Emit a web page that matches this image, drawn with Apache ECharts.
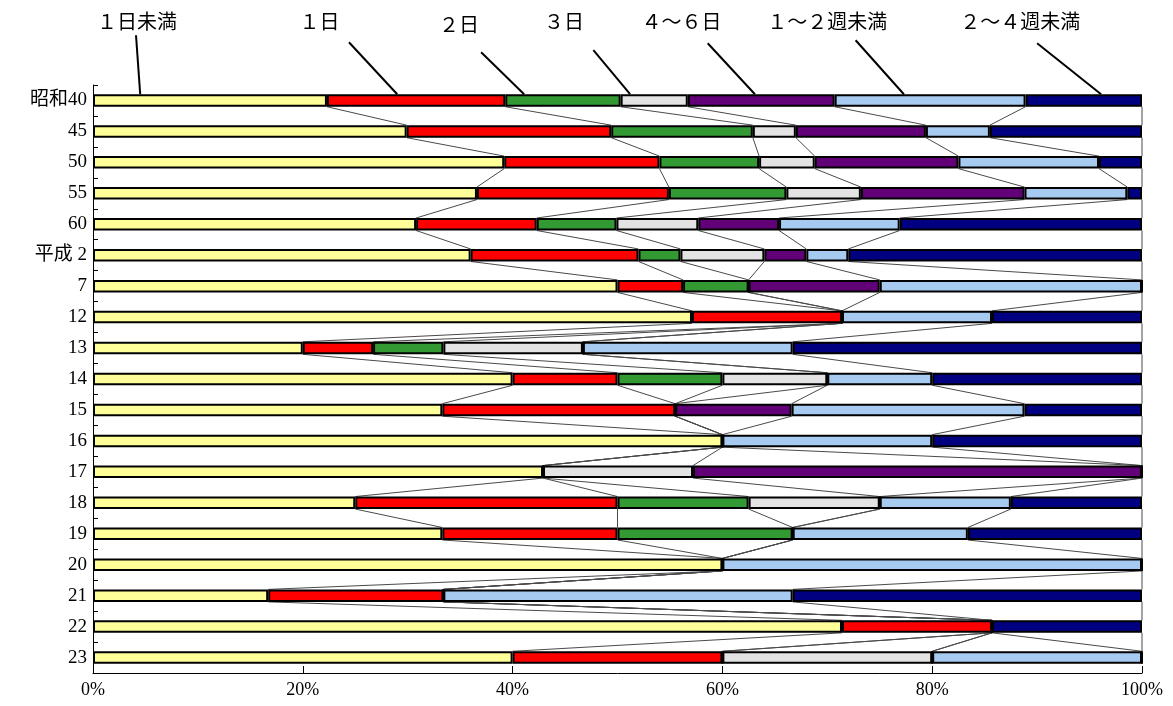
<!DOCTYPE html>
<html>
<head>
<meta charset="utf-8">
<script src="https://cdn.jsdelivr.net/npm/echarts@6/dist/echarts.min.js"></script>
<style>
  html, body { margin: 0; padding: 0; background: #fff; }
  #chart { width: 1173px; height: 706px; }
</style>
</head>
<body>
<div id="chart"></div>
<script>
// Survey years (category axis, top to bottom)
const years = ['昭和40', '45', '50', '55', '60', '平成 2', '7', '12', '13', '14', '15', '16', '17', '18', '19', '20', '21', '22', '23'];

// Duration classes (stack order, left to right)
const seriesNames = ['１日未満', '１日', '２日', '３日', '４～６日', '１～２週未満', '２～４週未満'];

// Share of each duration class per year (%)
const lessThanOneDay = [22.3, 29.9, 39.2, 36.6, 30.8, 36, 50, 57.1, 20, 40, 33.3, 60, 42.9, 25, 33.3, 60, 16.7, 71.4, 40];
const oneDay         = [17.0, 19.5, 14.8, 18.3, 11.5, 16, 6.25, 14.3, 6.7, 10, 22.2, 0, 0, 25, 16.7, 0, 16.7, 14.3, 20];
const twoDays        = [11.0, 13.5, 9.5, 11.2, 7.6, 4, 6.25, 0, 6.7, 10, 0, 0, 0, 12.5, 16.7, 0, 0, 0, 0];
const threeDays      = [6.4, 4.1, 5.3, 7.1, 7.8, 8, 0, 0, 13.3, 10, 0, 0, 14.3, 12.5, 0, 0, 0, 0, 20];
const fourToSixDays  = [14.0, 12.4, 13.7, 15.6, 7.7, 4, 12.5, 0, 0, 0, 11.1, 0, 42.8, 0, 0, 0, 0, 0, 0];
const oneToTwoWeeks  = [18.2, 6.1, 13.4, 9.8, 11.5, 4, 25, 14.3, 20, 10, 22.2, 20, 0, 12.5, 16.7, 40, 33.3, 0, 20];
const twoToFourWeeks = [11.1, 14.5, 4.1, 1.4, 23.1, 28, 0, 14.3, 33.3, 20, 11.2, 20, 0, 12.5, 16.6, 0, 33.3, 14.3, 0];

// Percent tick labels
const xTicks = [0, 20, 40, 60, 80, 100];

const seriesValues = [lessThanOneDay, oneDay, twoDays, threeDays, fourToSixDays, oneToTwoWeeks, twoToFourWeeks];
const colors = ['#FFFF99', '#FF0000', '#339933', '#E3E3E3', '#620077', '#A6CAF0', '#000080'];

// Drawing layout for the callout labels above the first bar (percent along the axis, pixel rises above the bar top)
const calloutLayout = {
  textX:     [4.2, 21.6, 34.9, 44.9, 56.1, 70.0, 88.4],
  textRise:  [73, 73, 70, 73, 73, 73, 73],
  startX:    [4.1, 24.4, 37.0, 47.7, 58.6, 72.7, 90.0],
  startRise: [59, 52, 42, 44, 51, 54, 51],
  endX:      [4.5, 29.0, 41.1, 51.2, 63.1, 77.3, 96.1]
};

const BAR_W = 12.5;
const LABEL_FONT = "'Liberation Serif', 'Noto Sans CJK JP', serif";

// Cumulative right edge of each class per year
const cumulative = seriesValues.map((_, s) =>
  years.map((_, i) => {
    let t = 0;
    for (let k = 0; k <= s; k++) t += seriesValues[k][i];
    return t;
  })
);

// Connector lines between consecutive bars at each class boundary
const connectorData = [];
for (let s = 0; s < seriesValues.length; s++) {
  for (let i = 0; i < years.length - 1; i++) {
    connectorData.push([cumulative[s][i], i, cumulative[s][i + 1]]);
  }
}

const chart = echarts.init(document.getElementById('chart'), null, { renderer: 'canvas' });

const barSeries = seriesNames.map((name, s) => ({
  name: name,
  type: 'bar',
  stack: 'total',
  barWidth: BAR_W,
  data: seriesValues[s],
  itemStyle: { color: colors[s], borderColor: '#000', borderWidth: 2 },
  emphasis: { disabled: true },
  z: 3
}));

const connectorSeries = {
  type: 'custom',
  coordinateSystem: 'cartesian2d',
  clip: false,
  silent: true,
  z: 2,
  encode: { x: [0, 2], y: 1 },
  data: connectorData,
  renderItem: function (params, api) {
    const i = api.value(1);
    const p1 = api.coord([api.value(0), i]);
    const p2 = api.coord([api.value(2), i + 1]);
    const half = BAR_W / 2;
    return {
      type: 'line',
      shape: { x1: p1[0], y1: p1[1] + half, x2: p2[0], y2: p2[1] - half },
      style: { stroke: '#4a4a4a', lineWidth: 1 }
    };
  }
};

const calloutSeries = {
  type: 'custom',
  coordinateSystem: 'cartesian2d',
  clip: false,
  silent: true,
  z: 4,
  encode: { x: 0, y: 1 },
  data: seriesNames.map((_, s) => [calloutLayout.endX[s], 0]),
  renderItem: function (params, api) {
    const s = params.dataIndex;
    const end = api.coord([api.value(0), 0]);
    const barTop = end[1] - BAR_W / 2;
    const textX = api.coord([calloutLayout.textX[s], 0])[0];
    const startX = api.coord([calloutLayout.startX[s], 0])[0];
    return {
      type: 'group',
      children: [
        {
          type: 'line',
          shape: { x1: startX, y1: barTop - calloutLayout.startRise[s], x2: end[0], y2: barTop },
          style: { stroke: '#000', lineWidth: 2 }
        },
        {
          type: 'text',
          style: {
            x: textX,
            y: barTop - calloutLayout.textRise[s],
            text: seriesNames[s],
            fill: '#000',
            font: "20px 'Noto Sans CJK JP', sans-serif",
            align: 'center',
            verticalAlign: 'middle'
          }
        }
      ]
    };
  }
};

chart.setOption({
  animation: false,
  backgroundColor: '#fff',
  grid: { left: 93, right: 31, top: 85, bottom: 33, containLabel: false },
  xAxis: {
    type: 'value',
    min: 0,
    max: 100,
    interval: 20,
    axisLine: { show: true, lineStyle: { color: '#000', width: 1 } },
    axisTick: { show: true, inside: true, length: 7, lineStyle: { color: '#000' } },
    splitLine: { show: false },
    axisLabel: {
      color: '#000',
      fontSize: 18,
      fontFamily: LABEL_FONT,
      margin: 8,
      formatter: function (v) { return xTicks.indexOf(v) >= 0 ? v + '%' : ''; }
    }
  },
  yAxis: {
    type: 'category',
    data: years,
    inverse: true,
    axisLine: { show: true, lineStyle: { color: '#000', width: 1 } },
    axisTick: { show: true, inside: true, length: 5, lineStyle: { color: '#000' } },
    axisLabel: { color: '#000', fontSize: 19, fontFamily: LABEL_FONT, margin: 6 },
    splitLine: { show: false }
  },
  series: [connectorSeries].concat(barSeries, [calloutSeries])
});
</script>
</body>
</html>
